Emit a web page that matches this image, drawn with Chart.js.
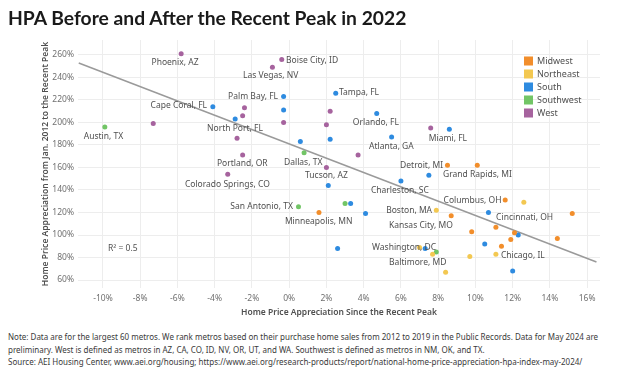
<!DOCTYPE html>
<html>
<head>
<meta charset="utf-8">
<script src="https://cdn.jsdelivr.net/npm/chart.js@4.4.1/dist/chart.umd.min.js"></script>
<style>
  html, body { margin: 0; padding: 0; background: #fff; }
  body { width: 624px; height: 375px; position: relative; overflow: hidden; font-family: "Noto Sans", sans-serif; }
  #title { position: absolute; left: 8px; top: 6px; font-family: Lato, sans-serif; font-weight: bold; font-size: 19.3px; color: #1a1a1a; white-space: nowrap; }
  #wrap { position: absolute; left: 0; top: 0; width: 624px; height: 330px; }
  #note { position: absolute; left: 8px; top: 331px; font-size: 8px; line-height: 12.5px; color: #3a3a3a; white-space: nowrap; }
</style>
</head>
<body>
<div id="wrap"><canvas id="chart"></canvas></div>
<div id="title">HPA Before and After the Recent Peak in 2022</div>
<div id="note">
  Note: Data are for the largest 60 metros. We rank metros based on their purchase home sales from 2012 to 2019 in the Public Records. Data for May 2024 are<br>
  preliminary. West is defined as metros in AZ, CA, CO, ID, NV, OR, UT, and WA. Southwest is defined as metros in NM, OK, and TX.<br>
  Source: AEI Housing Center, www.aei.org/housing; https://www.aei.org/research-products/report/national-home-price-appreciation-hpa-index-may-2024/
</div>
<script>
// ── Data: x = HPA since the recent peak (%), y = HPA Jan 2012 to peak (%) ──
const midwestX = [8.5, 10.1, 11.6, 1.6, 8.7, 15.2, 9.8, 11.1, 12.1, 11.9, 14.4, 11.4];
const midwestY = [162, 162, 131, 120, 117, 119, 103, 107, 102, 96, 97, 90];

const northeastX = [7.9, 12.6, 7.0, 7.7, 9.7, 11.1, 8.4];
const northeastY = [122, 129, 89, 83, 81, 83, 67];

const southX = [-4.1, -2.9, -0.3, -0.3, 2.5, 4.7, 0.6, 2.2, 5.5, 8.6, 2.1, 6.0, 7.5, 3.3, 4.1, 10.7, 12.3, 10.5, 2.6, 7.3, 12.0];
const southY = [214, 203, 223, 211, 226, 208, 183, 185, 187, 194, 144, 148, 153, 128, 119, 120, 100, 92, 88, 88, 68];

const southwestX = [-9.9, 0.8, 0.5, 3.0, 7.9];
const southwestY = [196, 173, 125, 128, 85];

const westX = [-5.8, -7.3, -2.5, -2.4, -2.8, -2.5, -3.3, -0.4, -0.9, -0.3, 2.2, 2.0, 3.7, 2.0, 7.6];
const westY = [261, 199, 206, 213, 186, 171, 154, 256, 249, 200, 210, 198, 171, 160, 195];

// trend line end points
const trendX = [-11.3, 16.5];
const trendY = [252.9, 76];

const regions = ["Midwest", "Northeast", "South", "Southwest", "West"];
const regionColors = ["#f28e2b", "#f3c851", "#2e8be0", "#72c566", "#a6639e"];

const xTicks = [-10, -8, -6, -4, -2, 0, 2, 4, 6, 8, 10, 12, 14, 16];
const yTicks = [60, 80, 100, 120, 140, 160, 180, 200, 220, 240, 260];

// city labels, anchored in data units
const cityNames = ["Phoenix, AZ", "Boise City, ID", "Las Vegas, NV", "Palm Bay, FL", "Tampa, FL", "Cape Coral, FL",
  "Orlando, FL", "Austin, TX", "North Port, FL", "Miami, FL", "Atlanta, GA", "Portland, OR", "Dallas, TX",
  "Detroit, MI", "Grand Rapids, MI", "Tucson, AZ", "Colorado Springs, CO", "Charleston, SC", "Columbus, OH",
  "San Antonio, TX", "Boston, MA", "Cincinnati, OH", "Minneapolis, MN", "Kansas City, MO", "Washington, DC",
  "Chicago, IL", "Baltimore, MD"];
const cityX = [-6.13, -0.17, -2.48, -0.6, 2.67, -4.41, 3.42, -9.97, -4.41, 7.5, 4.29, -3.88, -0.28,
  8.26, 8.26, 0.85, -5.6, 4.39, 11.4, 0.2, 7.67, 11.11, -0.23, 5.36, 4.45, 11.37, 5.36];
const cityY = [252.9, 254.7, 241.3, 222.7, 226.2, 214.7, 199.6, 187.1, 194.2, 185.3, 178.2, 163.1, 164,
  161.3, 153.3, 152.4, 144.4, 139.1, 130.2, 124.9, 121.3, 115.1, 111.6, 108, 88.4, 81.3, 75.1];
const cityAlign = ["center", "left", "left", "right", "left", "right", "left", "center", "left", "left", "left",
  "left", "left", "right", "left", "left", "left", "left", "right", "right", "right", "left", "left", "left",
  "left", "left", "left"];

const seriesX = [midwestX, northeastX, southX, southwestX, westX];
const seriesY = [midwestY, northeastY, southY, southwestY, westY];

const FONT = "'Noto Sans', sans-serif";

const annotations = {
  id: "annotations",
  afterDatasetsDraw(chart) {
    const { ctx, scales } = chart;
    ctx.save();
    ctx.font = "8.5px " + FONT;
    ctx.fillStyle = "#505050";
    ctx.textBaseline = "middle";
    cityNames.forEach((name, i) => {
      ctx.textAlign = cityAlign[i];
      ctx.fillText(name, scales.x.getPixelForValue(cityX[i]), scales.y.getPixelForValue(cityY[i]));
    });
    // R squared
    ctx.textAlign = "left";
    ctx.fillText("R² = 0.5", scales.x.getPixelForValue(-9.73), scales.y.getPixelForValue(87.6));

    // legend
    const lx = 524;
    regions.forEach((r, i) => {
      const ly = 61 + i * 13;
      ctx.fillStyle = regionColors[i];
      ctx.fillRect(lx, ly - 4.5, 9, 9);
      ctx.fillStyle = "#505050";
      ctx.font = "9px " + FONT;
      ctx.fillText(r, lx + 13, ly);
    });
    ctx.restore();
  },
};

const datasets = regions.map((r, i) => ({
  label: r,
  data: seriesX[i].map((x, j) => ({ x: x, y: seriesY[i][j] })),
  backgroundColor: regionColors[i],
  borderColor: regionColors[i],
  pointRadius: 2.5,
  borderWidth: 0,
  order: 1,
}));

datasets.push({
  type: "line",
  label: "Trend",
  data: trendX.map((x, j) => ({ x: x, y: trendY[j] })),
  borderColor: "#9a9a9a",
  borderWidth: 1.5,
  pointRadius: 0,
  fill: false,
  order: 10,
});

new Chart(document.getElementById("chart"), {
  type: "scatter",
  data: { datasets },
  options: {
    responsive: true,
    maintainAspectRatio: false,
    animation: false,
    layout: { padding: { left: 36, right: 24, top: 40, bottom: 0 } },
    plugins: { legend: { display: false }, tooltip: { enabled: false } },
    scales: {
      x: {
        type: "linear",
        min: -11.34,
        max: 16.69,
        afterBuildTicks: (axis) => { axis.ticks = xTicks.map((v) => ({ value: v })); },
        afterFit: (axis) => { axis.height = 42; },
        grid: { color: "#ededed", drawTicks: false },
        border: { display: false },
        ticks: { padding: 5, color: "#707070", font: { family: FONT, size: 8.5 }, callback: (v) => v + "%" },
        title: { display: true, text: "Home Price Appreciation Since the Recent Peak", color: "#505050",
          font: { family: FONT, size: 8.5, weight: "600" }, padding: { top: 1, bottom: 12 } },
      },
      y: {
        type: "linear",
        min: 52.9,
        max: 273.3,
        afterBuildTicks: (axis) => { axis.ticks = yTicks.map((v) => ({ value: v })); },
        afterFit: (axis) => { axis.width = 42; },
        grid: { color: "#ededed", drawTicks: false },
        border: { display: false },
        ticks: { padding: 4, color: "#707070", font: { family: FONT, size: 8.5 }, callback: (v) => v + "%" },
        title: { display: true, text: "Home Price Appreciation from Jan. 2012 to the Recent Peak", color: "#505050",
          font: { family: FONT, size: 8.5, weight: "600" }, padding: { top: 4, bottom: 0 } },
      },
    },
  },
  plugins: [annotations],
});
</script>
</body>
</html>
